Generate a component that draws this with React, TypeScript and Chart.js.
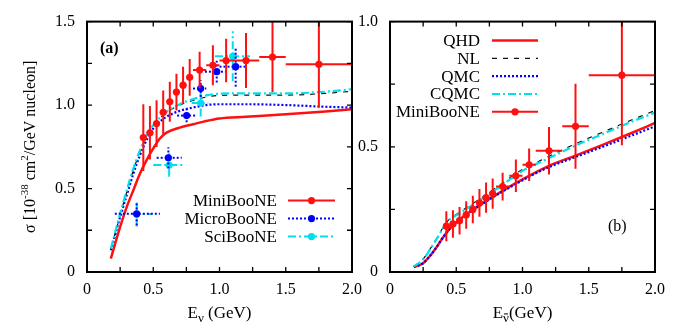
import React, { useEffect, useRef } from "react";
import { Chart, registerables } from "chart.js";

Chart.register(...registerables);

const SERIF = '"Liberation Serif", "Times New Roman", Times, serif';

// ---------------- Panel (a): neutrino ----------------
const curveEnergyA = [0.18, 0.25, 0.3, 0.35, 0.4, 0.45, 0.5, 0.55, 0.6, 0.7, 0.8, 0.9, 1.0, 1.2, 1.5, 1.8, 2.0];
const curveMiniA = [0.08, 0.27, 0.39, 0.49, 0.59, 0.67, 0.74, 0.8, 0.835, 0.865, 0.885, 0.905, 0.92, 0.93, 0.945, 0.962, 0.975];
const curveMicroA = [0.13, 0.33, 0.46, 0.59, 0.7, 0.79, 0.86, 0.9, 0.93, 0.965, 0.985, 1.0, 1.005, 1.005, 1.0, 0.99, 0.985];
const curveSciA = [0.14, 0.35, 0.49, 0.62, 0.73, 0.82, 0.88, 0.925, 0.96, 1.005, 1.035, 1.058, 1.068, 1.07, 1.07, 1.08, 1.095];
const curveNLA = [0.135, 0.34, 0.48, 0.61, 0.72, 0.81, 0.875, 0.92, 0.955, 1.0, 1.028, 1.048, 1.058, 1.06, 1.06, 1.07, 1.083];

const miniE = [0.425, 0.475, 0.525, 0.575, 0.625, 0.675, 0.725, 0.775, 0.85, 0.95, 1.05, 1.2, 1.4, 1.75];
const miniSigma = [0.805, 0.834, 0.889, 0.957, 1.02, 1.078, 1.119, 1.166, 1.21, 1.238, 1.267, 1.267, 1.288, 1.244];
const miniErr = [0.2, 0.16, 0.14, 0.13, 0.12, 0.11, 0.11, 0.11, 0.11, 0.12, 0.13, 0.165, 0.21, 0.26];
const miniHalfBin = [0.025, 0.025, 0.025, 0.025, 0.025, 0.025, 0.025, 0.025, 0.05, 0.05, 0.05, 0.1, 0.1, 0.25];

const microE = [0.375, 0.614, 0.752, 0.858, 0.979, 1.122];
const microSigma = [0.349, 0.684, 0.937, 1.099, 1.2, 1.23];
const microErr = [0.07, 0.064, 0.04, 0.05, 0.065, 0.12];
const microLo = [0.21, 0.526, 0.68, 0.8, 0.89, 1.0];
const microHi = [0.55, 0.715, 0.83, 0.9, 1.05, 1.2];

const sciE = [0.375, 0.62, 0.858, 1.1];
const sciSigma = [0.347, 0.641, 1.012, 1.292];
const sciErr = [0.075, 0.07, 0.08, 0.15];
const sciLo = [0.337, 0.5, 0.79, 0.966];
const sciHi = [0.488, 0.74, 0.915, 1.23];

// ---------------- Panel (b): antineutrino ----------------
const curveEnergyB = [0.18, 0.25, 0.3, 0.35, 0.4, 0.45, 0.5, 0.6, 0.7, 0.8, 0.9, 1.0, 1.1, 1.2, 1.4, 1.6, 1.8, 2.0];
const qhdB = [0.02, 0.035, 0.063, 0.098, 0.138, 0.172, 0.198, 0.24, 0.275, 0.308, 0.34, 0.37, 0.398, 0.424, 0.465, 0.507, 0.55, 0.595];
const nlB = [0.022, 0.052, 0.09, 0.132, 0.177, 0.212, 0.23, 0.265, 0.3, 0.336, 0.374, 0.41, 0.436, 0.462, 0.512, 0.557, 0.602, 0.645];
const qmcB = [0.02, 0.035, 0.063, 0.098, 0.138, 0.172, 0.198, 0.239, 0.273, 0.306, 0.337, 0.366, 0.394, 0.419, 0.459, 0.499, 0.54, 0.582];
const cqmcB = [0.022, 0.05, 0.088, 0.13, 0.175, 0.21, 0.226, 0.26, 0.295, 0.33, 0.368, 0.404, 0.43, 0.455, 0.505, 0.55, 0.595, 0.637];

const antiE = [0.425, 0.475, 0.525, 0.575, 0.625, 0.675, 0.725, 0.775, 0.85, 0.95, 1.05, 1.2, 1.4, 1.75];
const antiSigma = [0.183, 0.192, 0.205, 0.228, 0.25, 0.276, 0.297, 0.313, 0.341, 0.384, 0.428, 0.484, 0.582, 0.786];
const antiErr = [0.06, 0.055, 0.055, 0.055, 0.055, 0.055, 0.06, 0.06, 0.055, 0.065, 0.065, 0.095, 0.17, 0.28];
const antiHalfBin = [0.025, 0.025, 0.025, 0.025, 0.025, 0.025, 0.025, 0.025, 0.05, 0.05, 0.05, 0.1, 0.1, 0.25];

const RED = "#ff1010";
const BLUE = "#0000ff";
const CYAN = "#00e0ea";
const BLACK = "#111111";
const DOT = [2, 2];
const DASHDOT = [8, 3, 2, 3];
const DASH = [5, 6];

const pts = (xs: number[], ys: number[]) => xs.map((x, i) => ({ x, y: ys[i] }));

function curve(xs: number[], ys: number[], color: string, width: number, dash: number[], label: string) {
  return {
    label,
    data: pts(xs, ys),
    borderColor: color,
    borderWidth: width,
    borderDash: dash,
    pointRadius: 0,
    fill: false,
    cubicInterpolationMode: "monotone",
    showLine: true,
  };
}

function points(
  xs: number[], ys: number[], err: number[], lo: number[], hi: number[],
  color: string, dash: number[], label: string
) {
  return {
    label,
    data: pts(xs, ys),
    showLine: false,
    pointRadius: 3.6,
    pointBorderWidth: 0,
    pointBackgroundColor: color,
    borderColor: color,
    errY: err,
    errLo: lo,
    errHi: hi,
    errColor: color,
    errDash: dash,
    errWidth: 2,
  };
}

type Seg = { t: string; dy?: number; size?: number; bar?: boolean; bold?: boolean };

function drawRich(ctx: CanvasRenderingContext2D, segs: Seg[], cx: number, by: number, base: number) {
  const fontOf = (s: Seg) => `${s.bold ? "bold " : ""}${s.size || base}px ${SERIF}`;
  let w = 0;
  segs.forEach((s) => {
    ctx.font = fontOf(s);
    w += ctx.measureText(s.t).width;
  });
  let x = cx - w / 2;
  ctx.textAlign = "left";
  ctx.textBaseline = "alphabetic";
  segs.forEach((s) => {
    ctx.font = fontOf(s);
    const sw = ctx.measureText(s.t).width;
    ctx.fillText(s.t, x, by + (s.dy || 0));
    if (s.bar) {
      const sz = s.size || base;
      ctx.save();
      ctx.lineWidth = 1;
      ctx.strokeStyle = "#000";
      ctx.beginPath();
      ctx.moveTo(x + sw * 0.15, by + (s.dy || 0) - sz * 0.62);
      ctx.lineTo(x + sw * 0.85, by + (s.dy || 0) - sz * 0.62);
      ctx.stroke();
      ctx.restore();
    }
    x += sw;
  });
}

const decorPlugin = {
  id: "decor",
  beforeDatasetDraw(chart: any, args: any) {
    const ds = chart.data.datasets[args.index];
    if (!ds || !ds.errY) return;
    const { ctx, chartArea: a, scales } = chart;
    const xs = scales.x, ys = scales.y;
    ctx.save();
    ctx.beginPath();
    ctx.rect(a.left, a.top, a.right - a.left, a.bottom - a.top);
    ctx.clip();
    ctx.strokeStyle = ds.errColor;
    ctx.lineWidth = ds.errWidth;
    ctx.setLineDash(ds.errDash);
    ds.data.forEach((p: any, i: number) => {
      const px = xs.getPixelForValue(p.x);
      const py = ys.getPixelForValue(p.y);
      ctx.beginPath();
      ctx.moveTo(px, ys.getPixelForValue(p.y - ds.errY[i]));
      ctx.lineTo(px, ys.getPixelForValue(p.y + ds.errY[i]));
      ctx.stroke();
      ctx.beginPath();
      ctx.moveTo(xs.getPixelForValue(ds.errLo[i]), py);
      ctx.lineTo(xs.getPixelForValue(ds.errHi[i]), py);
      ctx.stroke();
    });
    ctx.restore();
  },
  afterDraw(chart: any, _args: any, opts: any) {
    const { ctx, chartArea: a, scales } = chart;
    ctx.save();
    // frame
    ctx.strokeStyle = "#000";
    ctx.lineWidth = 2;
    ctx.setLineDash([]);
    ctx.strokeRect(a.left, a.top, a.right - a.left, a.bottom - a.top);
    // inward ticks on all four sides
    const tl = 5;
    ctx.lineWidth = 1.3;
    scales.x.ticks.forEach((t: any) => {
      const px = scales.x.getPixelForValue(t.value);
      ctx.beginPath();
      ctx.moveTo(px, a.bottom);
      ctx.lineTo(px, a.bottom - tl);
      ctx.moveTo(px, a.top);
      ctx.lineTo(px, a.top + tl);
      ctx.stroke();
    });
    scales.y.ticks.forEach((t: any) => {
      const py = scales.y.getPixelForValue(t.value);
      ctx.beginPath();
      ctx.moveTo(a.left, py);
      ctx.lineTo(a.left + tl, py);
      ctx.moveTo(a.right, py);
      ctx.lineTo(a.right - tl, py);
      ctx.stroke();
    });

    ctx.fillStyle = "#000";
    // panel label
    if (opts.panel) {
      ctx.font = `${opts.panel.bold ? "bold " : ""}16px ${SERIF}`;
      ctx.textAlign = "left";
      ctx.textBaseline = "alphabetic";
      ctx.fillText(opts.panel.text, a.left + opts.panel.dx, opts.panel.fromBottom ? a.bottom - opts.panel.dy : a.top + opts.panel.dy);
    }

    // legend
    if (opts.legend) {
      const L = opts.legend;
      L.items.forEach((idx: number, k: number) => {
        const ds = chart.data.datasets[idx];
        const y = a.top + L.top + k * L.step;
        ctx.font = `17px ${SERIF}`;
        ctx.textAlign = "right";
        ctx.textBaseline = "middle";
        ctx.fillStyle = "#000";
        ctx.fillText(ds.label, a.left + L.textRight, y + 1);
        const x1 = a.left + L.sampleLeft, x2 = a.left + L.sampleRight;
        const isPts = !!ds.errY;
        ctx.save();
        ctx.strokeStyle = isPts ? ds.errColor : ds.borderColor;
        ctx.lineWidth = isPts ? ds.errWidth : ds.borderWidth;
        ctx.setLineDash(isPts ? ds.errDash : ds.borderDash);
        ctx.beginPath();
        ctx.moveTo(x1, y);
        ctx.lineTo(x2, y);
        ctx.stroke();
        if (isPts) {
          ctx.setLineDash([]);
          ctx.fillStyle = ds.pointBackgroundColor;
          ctx.beginPath();
          ctx.arc((x1 + x2) / 2, y, ds.pointRadius, 0, Math.PI * 2);
          ctx.fill();
        }
        ctx.restore();
      });
    }

    // x title
    ctx.fillStyle = "#000";
    if (opts.xTitle) drawRich(ctx, opts.xTitle, (a.left + a.right) / 2, 318, 17);
    // y title
    if (opts.yTitle) {
      ctx.save();
      ctx.translate(opts.yTitleX, (a.top + a.bottom) / 2);
      ctx.rotate(-Math.PI / 2);
      drawRich(ctx, opts.yTitle, 0, 0, 16);
      ctx.restore();
    }
    ctx.restore();
  },
};

const fmt = (v: any) => {
  const n = Number(v);
  if (Math.abs(n / 0.5 - Math.round(n / 0.5)) > 1e-6) return "";
  return Math.abs(n) < 1e-9 ? "0" : n.toFixed(1);
};

function baseOptions(yMax: number, padLeft: number, yWidth: number, padRight: number, decor: any) {
  const tickFont = { family: SERIF, size: 16 };
  return {
    responsive: false,
    maintainAspectRatio: false,
    animation: false,
    devicePixelRatio: 1,
    events: [],
    layout: { padding: { left: padLeft, right: padRight, top: 15, bottom: 0 } },
    plugins: { legend: { display: false }, tooltip: { enabled: false }, decor },
    scales: {
      x: {
        type: "linear",
        min: 0,
        max: 2,
        afterFit: (s: any) => {
          s.height = 54;
        },
        grid: { display: false, drawTicks: false },
        border: { display: false },
        ticks: { stepSize: 0.25, autoSkip: false, maxRotation: 0, padding: 8, color: "#000", font: tickFont, callback: fmt },
      },
      y: {
        type: "linear",
        min: 0,
        max: yMax,
        afterFit: (s: any) => {
          s.width = yWidth;
        },
        grid: { display: false, drawTicks: false },
        border: { display: false },
        ticks: { stepSize: 0.25, autoSkip: false, padding: 12, color: "#000", font: tickFont, callback: fmt },
      },
    },
  };
}

function configA(): any {
  return {
    type: "line",
    data: {
      datasets: [
        points(miniE, miniSigma, miniErr, miniE.map((e, i) => e - miniHalfBin[i]), miniE.map((e, i) => e + miniHalfBin[i]), RED, [], "MiniBooNE"),
        points(microE, microSigma, microErr, microLo, microHi, BLUE, DOT, "MicroBooNE"),
        points(sciE, sciSigma, sciErr, sciLo, sciHi, CYAN, DASHDOT, "SciBooNE"),
        curve(curveEnergyA, curveSciA, CYAN, 2.2, DASHDOT, "SciBooNE curve"),
        curve(curveEnergyA, curveNLA, BLACK, 1.2, DASH, "NL curve"),
        curve(curveEnergyA, curveMicroA, BLUE, 2.2, DOT, "MicroBooNE curve"),
        curve(curveEnergyA, curveMiniA, RED, 2.5, [], "MiniBooNE curve"),
      ],
    },
    options: baseOptions(1.5, 0, 87, 694 - 352, {
      panel: { text: "(a)", dx: 13, dy: 31, bold: true },
      legend: { items: [0, 1, 2], top: 179, step: 18, textRight: 190, sampleLeft: 201, sampleRight: 248 },
      xTitle: [{ t: "E" }, { t: "ν", size: 13, dy: 4 }, { t: " (GeV)" }],
      yTitle: [{ t: "σ [10" }, { t: "-38", size: 11, dy: -7 }, { t: " cm" }, { t: "2", size: 11, dy: -7 }, { t: "/GeV nucleon]" }],
      yTitleX: 35,
    }),
    plugins: [decorPlugin],
  };
}

function configB(): any {
  return {
    type: "line",
    data: {
      datasets: [
        points(antiE, antiSigma, antiErr, antiE.map((e, i) => e - antiHalfBin[i]), antiE.map((e, i) => e + antiHalfBin[i]), RED, [], "MiniBooNE"),
        curve(curveEnergyB, cqmcB, CYAN, 2.2, DASHDOT, "CQMC"),
        curve(curveEnergyB, nlB, BLACK, 1.2, DASH, "NL"),
        curve(curveEnergyB, qmcB, BLUE, 2.2, DOT, "QMC"),
        curve(curveEnergyB, qhdB, RED, 2.5, [], "QHD"),
      ],
    },
    options: baseOptions(1.0, 340, 50, 694 - 655, {
      panel: { text: "(b)", dx: 218, dy: 41, bold: false, fromBottom: true },
      legend: { items: [4, 2, 3, 1, 0], top: 19, step: 17.8, textRight: 90, sampleLeft: 102, sampleRight: 148 },
      xTitle: [{ t: "E" }, { t: "ν", size: 13, dy: 4, bar: true }, { t: "(GeV)" }],
    }),
    plugins: [decorPlugin],
  };
}

export default function App() {
  const refA = useRef<HTMLCanvasElement>(null);
  const refB = useRef<HTMLCanvasElement>(null);
  useEffect(() => {
    const a = new Chart(refA.current as HTMLCanvasElement, configA());
    const b = new Chart(refB.current as HTMLCanvasElement, configB());
    return () => {
      a.destroy();
      b.destroy();
    };
  }, []);
  return (
    <div style={{ position: "fixed", left: 0, top: 0, width: 694, height: 326, background: "#fff" }}>
      <canvas ref={refA} width={694} height={326} style={{ position: "absolute", left: 0, top: 0 }} />
      <canvas ref={refB} width={694} height={326} style={{ position: "absolute", left: 0, top: 0 }} />
    </div>
  );
}
